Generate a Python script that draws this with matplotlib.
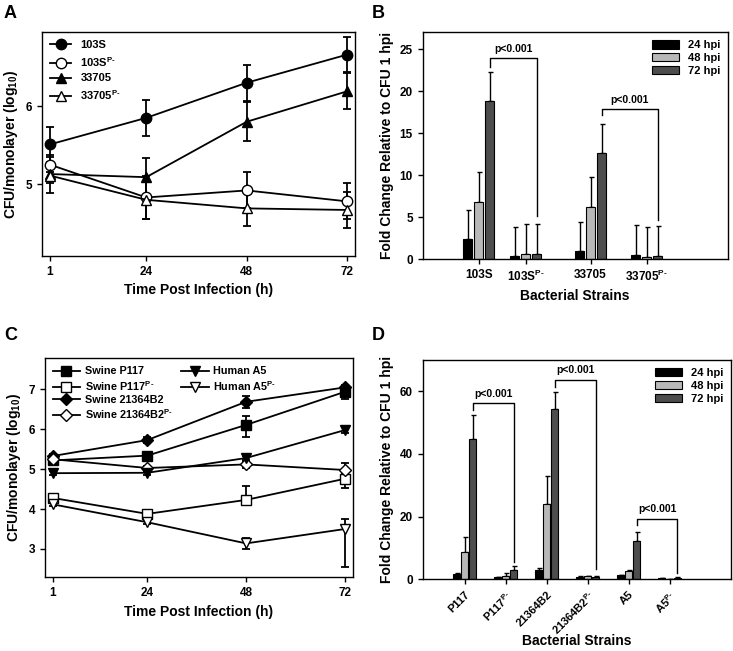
import numpy as np
import matplotlib
matplotlib.use('Agg')
import matplotlib.pyplot as plt
from matplotlib.lines import Line2D

plt.rcParams['font.family'] = ['Liberation Sans', 'DejaVu Sans']
plt.rcParams['font.weight'] = 'bold'
plt.rcParams['mathtext.fontset'] = 'custom'
plt.rcParams['mathtext.rm'] = 'Liberation Sans:bold'
plt.rcParams['mathtext.bf'] = 'Liberation Sans:bold'
plt.rcParams['mathtext.it'] = 'Liberation Sans:bold'
plt.rcParams['axes.linewidth'] = 1.0

SUP = r'$^{\mathrm{P}\text{-}}$'

# ---- panel A data (log10 CFU/monolayer)
hours = [1, 24, 48, 72]
a_names = ['103S', '103S' + SUP, '33705', '33705' + SUP]
a_vals = [[5.51, 5.85, 6.30, 6.66],
          [5.25, 4.83, 4.92, 4.78],
          [5.13, 5.09, 5.80, 6.19],
          [5.11, 4.80, 4.69, 4.67]]
a_err = [[0.22, 0.23, 0.23, 0.22],
         [0.10, 0.27, 0.23, 0.23],
         [0.24, 0.24, 0.25, 0.23],
         [0.10, 0.24, 0.23, 0.23]]

# ---- panel B data (fold change)
b_strains = ['103S', '103S' + SUP, '33705', '33705' + SUP]
b_24 = [2.35, 0.36, 0.95, 0.48]
b_48 = [6.84, 0.64, 6.24, 0.28]
b_72 = [18.8, 0.56, 12.6, 0.40]
b_24_err = [3.5, 3.49, 3.45, 3.57]
b_48_err = [3.56, 3.53, 3.58, 3.57]
b_72_err = [3.5, 3.61, 3.5, 3.53]

# ---- panel C data
c_names = ['Swine P117', 'Swine P117' + SUP, 'Swine 21364B2',
           'Swine 21364B2' + SUP, 'Human A5', 'Human A5' + SUP]
c_vals = [[5.22, 5.34, 6.11, 6.94],
          [4.28, 3.88, 4.23, 4.76],
          [5.33, 5.73, 6.69, 7.05],
          [5.25, 5.03, 5.12, 4.98],
          [4.90, 4.91, 5.28, 5.98],
          [4.12, 3.67, 3.14, 3.50]]
c_err_lo = [[0.05, 0.05, 0.30, 0.19],
            [0.05, 0.08, 0.10, 0.23],
            [0.05, 0.08, 0.15, 0.05],
            [0.05, 0.05, 0.08, 0.08],
            [0.05, 0.05, 0.06, 0.08],
            [0.05, 0.05, 0.15, 0.94]]
c_err_hi = [[0.05, 0.05, 0.23, 0.10],
            [0.05, 0.08, 0.34, 0.18],
            [0.05, 0.08, 0.15, 0.05],
            [0.05, 0.05, 0.08, 0.18],
            [0.05, 0.05, 0.06, 0.08],
            [0.05, 0.05, 0.13, 0.26]]

# ---- panel D data
d_strains = ['P117', 'P117' + SUP, '21364B2', '21364B2' + SUP, 'A5', 'A5' + SUP]
d_24 = [1.7, 0.64, 2.97, 0.85, 1.28, 0.43]
d_48 = [8.85, 1.07, 23.96, 0.96, 2.67, 0.20]
d_72 = [44.9, 3.0, 54.4, 0.85, 12.3, 0.53]
d_24_err = [0.2, 0.1, 0.53, 0.1, 0.1, 0.05]
d_48_err = [4.65, 0.83, 8.94, 0.1, 0.2, 0.05]
d_72_err = [7.4, 1.26, 5.3, 0.1, 2.9, 0.05]

W, H = 733, 651
fig = plt.figure(figsize=(W / 100, H / 100), dpi=100)


def px_axes(l, r, t, b):
    return fig.add_axes([l / W, 1 - b / H, (r - l) / W, (b - t) / H])


def style(ax):
    ax.tick_params(direction='out', length=3.5, width=1, labelsize=8.5,
                   top=False, right=False)
    for lab in ax.get_xticklabels() + ax.get_yticklabels():
        lab.set_fontweight('bold')


def line_panel(ax, vals, lo, hi, names, styles, ylim, yticks):
    handles = []
    for v, el, eh, nm, (mk, fc, ms) in zip(vals, lo, hi, names, styles):
        ax.errorbar(hours, v, yerr=[el, eh], color='black', marker=mk,
                    mfc=fc, mec='black', ms=ms, lw=1.3, elinewidth=1.3,
                    capsize=3, capthick=1.3)
        handles.append(Line2D([], [], color='black', marker=mk, mfc=fc,
                              mec='black', ms=ms, lw=1.3, label=nm))
    ax.set_xlim(-0.92, 73.9)
    ax.set_ylim(*ylim)
    ax.set_xticks(hours)
    ax.set_yticks(yticks)
    ax.set_xlabel('Time Post Infection (h)', fontsize=10, fontweight='bold')
    ax.set_ylabel(r'CFU/monolayer (log$_{10}$)', fontsize=10, fontweight='bold')
    style(ax)
    return handles


def bar_panel(ax, pos, s24, s48, s72, e24, e48, e72, step, width):
    pos = np.asarray(pos, dtype=float)
    cols = ['#000000', '#b8b8b8', '#4d4d4d']
    labs = ['24 hpi', '48 hpi', '72 hpi']
    for k, (s, e) in enumerate([(s24, e24), (s48, e48), (s72, e72)]):
        x = pos + (k - 1) * step
        ax.errorbar(x, s, yerr=[np.zeros(len(s)), e], fmt='none', ecolor='black',
                    elinewidth=1.0, capsize=1.8, capthick=1.0, zorder=1)
        ax.bar(x, s, width=width, color=cols[k], edgecolor='black', lw=0.8,
               label=labs[k], zorder=2)
    ax.legend(loc='upper right', frameon=False, handlelength=2.4,
              handleheight=0.8, borderaxespad=0.3, labelspacing=0.25,
              prop={'weight': 'bold', 'size': 8})
    ax.set_ylabel('Fold Change Relative to CFU 1 hpi', fontsize=10,
                  fontweight='bold')
    ax.set_xlabel('Bacterial Strains', fontsize=10, fontweight='bold')


def bracket(ax, x1, x2, y, y1, y2, txt_dy):
    ax.plot([x1, x1, x2, x2], [y1, y, y, y2], color='black', lw=1.0)
    ax.text((x1 + x2) / 2, y + txt_dy, 'p<0.001', ha='center', va='bottom',
            fontsize=7.5, fontweight='bold')


# ---------- A
axA = px_axes(42, 355, 32, 256)
hA = line_panel(axA, a_vals, a_err, a_err, a_names,
                [('o', 'black', 7.5), ('o', 'white', 7.5),
                 ('^', 'black', 7.5), ('^', 'white', 7.5)],
                (4.08, 6.95), [5, 6])
axA.legend(handles=hA, loc='upper left', frameon=False,
           prop={'weight': 'bold', 'size': 8},
           handlelength=1.9, labelspacing=0.42, borderaxespad=0.35,
           handletextpad=0.8)

# ---------- B
axB = px_axes(422.7, 727.7, 32.3, 259)
b_pos = [1, 1.84, 3, 4]
bar_panel(axB, b_pos, b_24, b_48, b_72, b_24_err, b_48_err, b_72_err, 0.196, 0.16)
axB.set_xlim(0, 5.45)
axB.set_ylim(0, 27)
axB.set_yticks([0, 5, 10, 15, 20, 25])
axB.set_xticks(b_pos)
axB.set_xticklabels(b_strains)
style(axB)
bracket(axB, b_pos[0] + 0.196, b_pos[1] + 0.196, 23.9, 22.9, 5.1, 0.5)
bracket(axB, b_pos[2] + 0.196, b_pos[3] + 0.196, 17.9, 17.1, 4.7, 0.5)

# ---------- C
axC = px_axes(44.7, 352.7, 358.3, 577.3)
hC = line_panel(axC, c_vals, c_err_lo, c_err_hi, c_names,
                [('s', 'black', 6.5), ('s', 'white', 6.5),
                 ('D', 'black', 6.5), ('D', 'white', 6.5),
                 ('v', 'black', 7), ('v', 'white', 7)],
                (2.29, 7.78), [3, 4, 5, 6, 7])
blank = Line2D([], [], color='none', label='')
axC.legend(handles=hC + [blank, blank], ncol=2,
           loc='upper left', frameon=False, prop={'weight': 'bold', 'size': 7.8},
           handlelength=2.5, labelspacing=0.22, borderaxespad=0.35,
           handletextpad=0.45, columnspacing=0.8)

# ---------- D
axD = px_axes(422.7, 731, 360, 579.3)
d_pos = np.arange(6)
bar_panel(axD, d_pos, d_24, d_48, d_72, d_24_err, d_48_err, d_72_err, 0.195, 0.16)
axD.set_xlim(-1.02, 6.5)
axD.set_ylim(0, 70)
axD.set_yticks([0, 20, 40, 60])
axD.set_xticks(d_pos)
axD.set_xticklabels(d_strains, rotation=45, ha='right', rotation_mode='anchor')
style(axD)
axD.tick_params(axis='x', labelsize=8)
axD.xaxis.set_label_coords(0.5, -0.25)
bracket(axD, d_pos[0] + 0.195, d_pos[1] + 0.195, 56.2, 54.0, 5.4, 1.5)
bracket(axD, d_pos[2] + 0.195, d_pos[3] + 0.195, 63.7, 61.5, 3.3, 1.5)
bracket(axD, d_pos[4] + 0.195, d_pos[5] + 0.195, 19.2, 17.3, 1.9, 1.5)

for lbl, x, y in [('A', 4, 18), ('B', 372, 18), ('C', 4, 340), ('D', 372, 340)]:
    fig.text(x / W, 1 - y / H, lbl, fontsize=13, fontweight='bold')

fig.savefig('out.png', dpi=100)
